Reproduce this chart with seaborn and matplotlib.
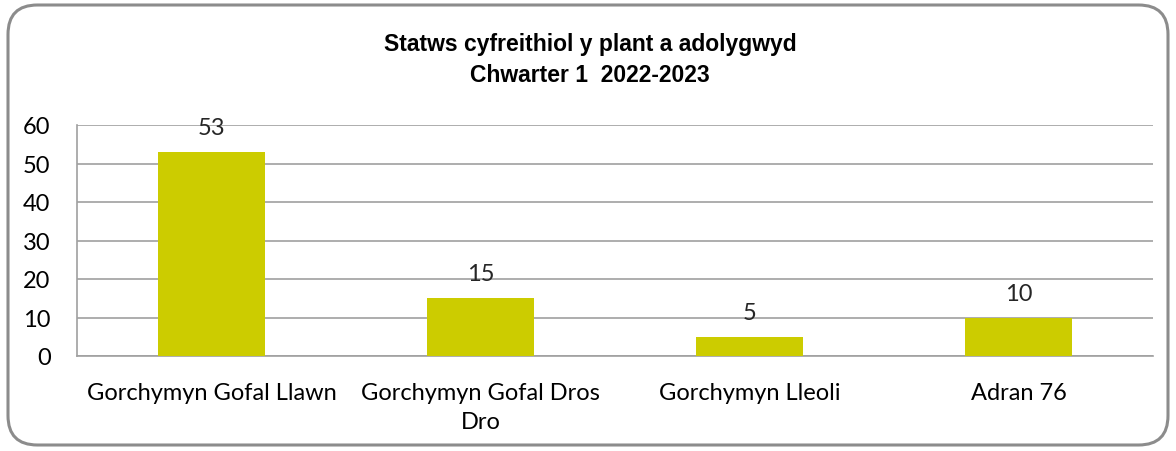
import matplotlib.pyplot as plt
import seaborn as sns
from matplotlib.patches import FancyBboxPatch

# data
categories = ['Gorchymyn Gofal Llawn', 'Gorchymyn Gofal Dros\nDro', 'Gorchymyn Lleoli', 'Adran 76']
values = [53, 15, 5, 10]
title = 'Statws cyfreithiol y plant a adolygwyd\nChwarter 1  2022-2023'

sns.set_style('white')
plt.rcParams['font.family'] = ['Lato', 'DejaVu Sans']

fig = plt.figure(figsize=(11.76, 4.52), dpi=100)
ax = fig.add_axes([77 / 1176, 1 - 357 / 452, (1153 - 77) / 1176, (357 - 126) / 452])

# rounded chart border
border = FancyBboxPatch((8 / 1176, 6 / 452), 1160 / 1176, 440 / 452,
                        boxstyle='round,pad=0,rounding_size=0.025',
                        transform=fig.transFigure, facecolor='none',
                        edgecolor='#8c8c8c', linewidth=2.2, mutation_aspect=1176 / 452)
fig.patches.append(border)

sns.barplot(x=categories, y=values, color='#cccc00', width=0.4, saturation=1,
            linewidth=0, ax=ax, zorder=3)

ax.set_ylim(0, 60)
ax.set_yticks(range(0, 61, 10))
ax.set_xlim(-0.5, 3.5)
ax.grid(axis='y', color='#a0a0a0', linewidth=1.2, zorder=0)
ax.set_axisbelow(True)
for side in ['top', 'right']:
    ax.spines[side].set_visible(False)
for side in ['left', 'bottom']:
    ax.spines[side].set_color('#a0a0a0')
    ax.spines[side].set_linewidth(1.2)
ax.tick_params(axis='both', length=0, labelsize=17, colors='black')
ax.tick_params(axis='x', pad=19)
ax.tick_params(axis='y', pad=19)
for lbl in ax.get_xticklabels():
    lbl.set_linespacing(1.45)
ax.set_xlabel('')
ax.set_ylabel('')

for i, v in enumerate(values):
    ax.annotate(str(v), (i, v), xytext=(0, 10), textcoords='offset points',
                ha='center', va='bottom', fontsize=17)

fig.text(0.502, 1 - 60 / 452, title, ha='center', va='center', fontsize=16.5,
         fontweight='bold', family=['Liberation Sans', 'DejaVu Sans'],
         linespacing=1.4, color='black')

fig.savefig('out.png', dpi=100)
